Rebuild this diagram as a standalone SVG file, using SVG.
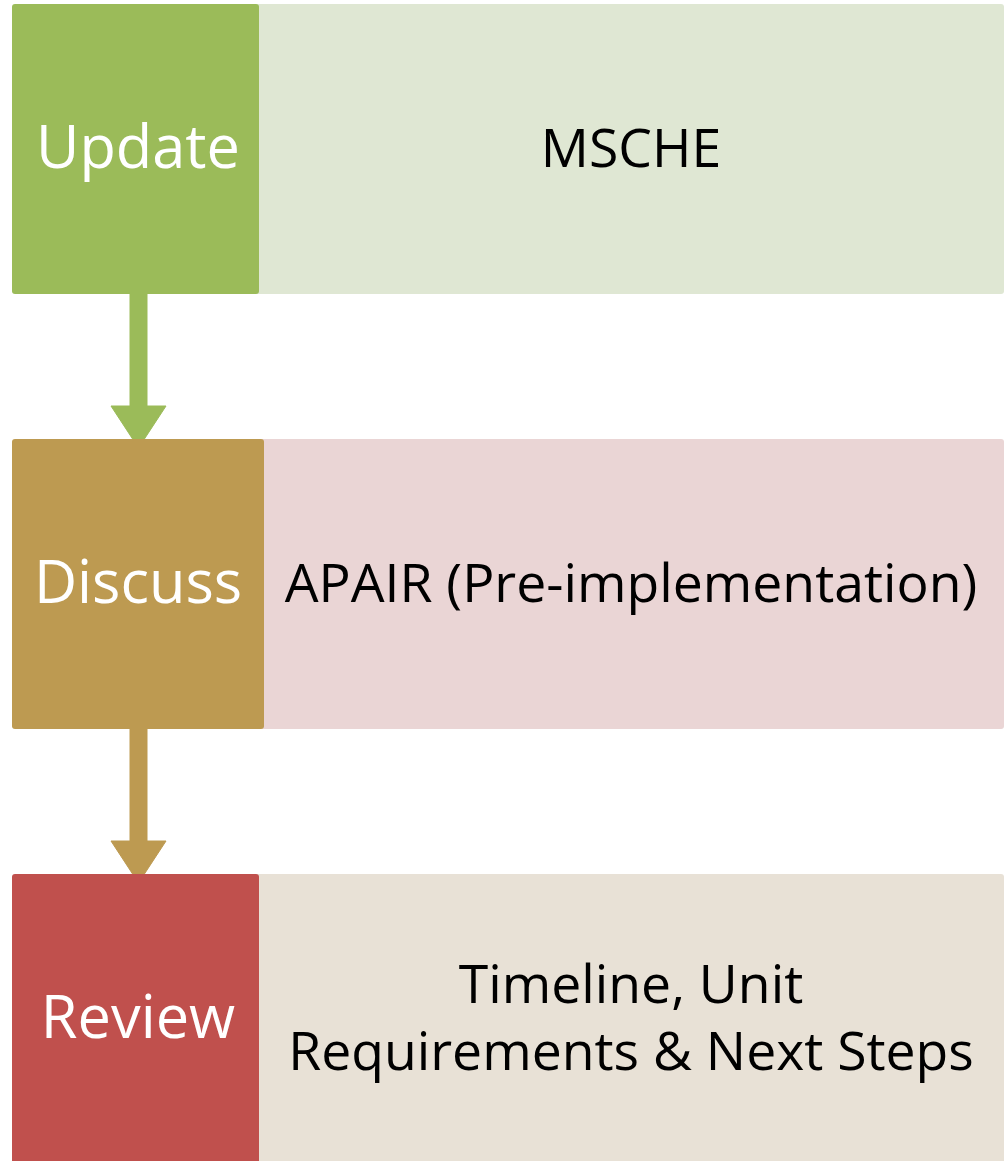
<svg xmlns="http://www.w3.org/2000/svg" width="1007" height="1161" viewBox="0 0 1007 1161">
<style>
.lbl{font-family:"Open Sans","Noto Sans","DejaVu Sans",sans-serif;font-size:59.5px;fill:#fff;text-anchor:middle}
.txt{font-family:"Open Sans","Noto Sans","DejaVu Sans",sans-serif;font-size:53.5px;fill:#000;text-anchor:middle}
</style>
<rect width="1007" height="1161" fill="#fff"/>
<g id="connectors">
<path d="M130,292 V406 H111 L138.5,448 L166,406 H147 V292 Z" fill="#9BBB59" stroke="#9BBB59" stroke-width="1" stroke-linejoin="round"/>
<path d="M130,727 V841 H111 L138.5,883 L166,841 H147 V727 Z" fill="#BD9A51" stroke="#BD9A51" stroke-width="1" stroke-linejoin="round"/>
</g>
<g id="detail-update">
<rect x="255" y="4" width="749" height="290" rx="3" fill="#DFE7D3"/>
<text class="txt" x="631" y="167">MSCHE</text>
</g>
<g id="update">
<rect x="12" y="4" width="247" height="290" rx="3" fill="#9BBB59"/>
<text class="lbl" x="138" y="168">Update</text>
</g>
<g id="detail-discuss">
<rect x="260" y="439" width="744" height="290" rx="3" fill="#EAD5D5"/>
<text class="txt" x="631" y="602">APAIR (Pre-implementation)</text>
</g>
<g id="discuss">
<rect x="12" y="439" width="252" height="290" rx="3" fill="#BD9A51"/>
<text class="lbl" x="138" y="603">Discuss</text>
</g>
<g id="detail-review">
<rect x="255" y="874" width="749" height="300" rx="3" fill="#E8E1D6"/>
<text class="txt" x="631" y="1003">Timeline, Unit</text>
<text class="txt" x="631" y="1070">Requirements &amp; Next Steps</text>
</g>
<g id="review">
<rect x="12" y="874" width="247" height="300" rx="3" fill="#C0504D"/>
<text class="lbl" x="138" y="1038">Review</text>
</g>
</svg>
